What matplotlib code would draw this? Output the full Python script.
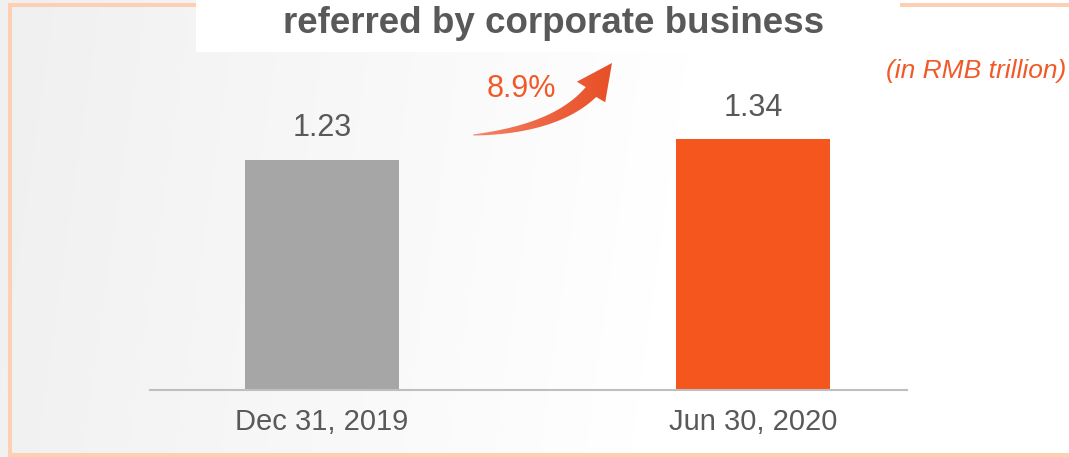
import numpy as np
import matplotlib
matplotlib.use("Agg")
import matplotlib.pyplot as plt
from matplotlib.patches import Rectangle, Polygon

# Chart data
categories = ["Dec 31, 2019", "Jun 30, 2020"]
values = [1.23, 1.34]
value_labels = ["1.23", "1.34"]
bar_colors = ["#A6A6A6", "#F4561E"]
title_text = "referred by corporate business"
unit_text = "(in RMB trillion)"
growth_text = "8.9%"

W, H, DPI = 1069, 457, 100
TEXT_GRAY = "#595959"
ORANGE = "#F05A28"

plt.rcParams["font.family"] = ["Liberation Sans", "DejaVu Sans"]

fig = plt.figure(figsize=(W / DPI, H / DPI), dpi=DPI)

# Decoration layer in pixel coordinates (y grows downward)
deco = fig.add_axes([0, 0, 1, 1], zorder=0)
deco.axis("off")

# Soft grey-to-white background
X, Y = np.meshgrid(np.linspace(0, 1, W), np.linspace(0, 1, H))
g = 0.945 + 0.055 * np.clip((X - 0.05) / 0.6 + 0.1 * Y, 0, 1)
deco.imshow(np.dstack([g, g, g]), extent=(0, W, H, 0), aspect="auto", zorder=0)

# Frame lines
frame_kw = dict(color="#FDD0B4", lw=2.9, solid_capstyle="butt", zorder=1)
deco.plot([9.5, 9.5], [3, 456], **frame_kw)
deco.plot([8, W], [4.5, 4.5], **frame_kw)
deco.plot([8, W], [455, 455], **frame_kw)

# Title box
deco.add_patch(Rectangle((196, 0), 704, 52, facecolor="white", edgecolor="none", zorder=2))
deco.text(554, 33, title_text, ha="center", va="baseline", fontsize=26.5,
          fontweight="bold", color=TEXT_GRAY, zorder=3)

# Unit note and growth figure
deco.text(1066, 78, unit_text, ha="right", va="baseline", fontsize=19,
          style="italic", color=ORANGE, zorder=3)
deco.text(521, 97, growth_text, ha="center", va="baseline", fontsize=22,
          color=ORANGE, zorder=3)

# Curved growth arrow: tapered quadratic body plus triangular head
t = np.linspace(0, 1, 80)[:, None]
P0 = np.array([473.0, 135.0])
P1 = np.array([556.0, 129.0])
P2 = np.array([591.0, 92.0])
tip = np.array([612.0, 63.0])
pts = (1 - t) ** 2 * P0 + 2 * (1 - t) * t * P1 + t ** 2 * P2
der = 2 * (1 - t) * (P1 - P0) + 2 * t * (P2 - P1)
nrm = np.hstack([-der[:, 1:2], der[:, 0:1]])
nrm /= np.linalg.norm(nrm, axis=1, keepdims=True)
half = 0.4 + 6.8 * t ** 0.8
upper = pts - nrm * half
lower = pts + nrm * half
hd = tip - P2
perp = np.array([-hd[1], hd[0]]) / np.linalg.norm(hd)
outline = np.vstack([upper, P2 - perp * 17.5, tip, P2 + perp * 17.5, lower[::-1]])
arrow = Polygon(outline, closed=True, facecolor="none", edgecolor="none", zorder=3)
deco.add_patch(arrow)

x0, x1, y0, y1 = 470, 615, 60, 140
gx = np.linspace(0, 1, 200)[None, :]
gy = np.linspace(0, 1, 100)[:, None]
c_start = np.array([0.97, 0.58, 0.48])
c_end = np.array([0.91, 0.31, 0.15])
mix = np.clip(gx ** 0.6 + 0 * gy, 0, 1)[..., None]
grad = c_start * (1 - mix) + c_end * mix
im = deco.imshow(grad, extent=(x0, x1, y1, y0), aspect="auto", zorder=3)
im.set_clip_path(arrow)

deco.set_xlim(0, W)
deco.set_ylim(H, 0)

# Bar chart axes
px_per_unit = 187.0
ax = fig.add_axes([150 / W, (H - 390) / H, 757 / W, 1.5 * px_per_unit / H], zorder=1)
ax.patch.set_alpha(0)
x = np.arange(len(categories))
ax.bar(x, values, width=0.357, color=bar_colors, zorder=2)
ax.set_xlim(-0.399, 1.356)
ax.set_ylim(0, 1.5)

for xi, v, lab in zip(x, values, value_labels):
    ax.annotate(lab, (xi, v), xytext=(0, 17), textcoords="offset points",
                ha="center", va="baseline", fontsize=22, color=TEXT_GRAY)

for side in ("top", "left", "right"):
    ax.spines[side].set_visible(False)
ax.spines["bottom"].set_color("#BFBFBF")
ax.spines["bottom"].set_linewidth(1.5)
ax.set_yticks([])
ax.set_xticks(x)
ax.set_xticklabels(categories, fontsize=21, color=TEXT_GRAY)
ax.tick_params(axis="x", length=0, pad=13)

fig.savefig("out.png", dpi=DPI)
